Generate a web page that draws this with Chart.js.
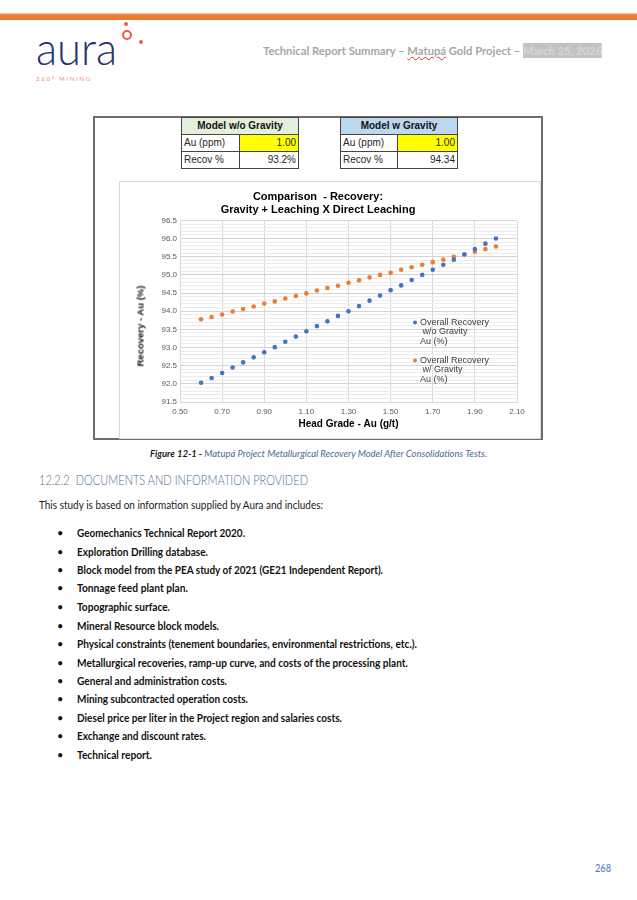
<!DOCTYPE html>
<html><head><meta charset="utf-8">
<script src="https://cdn.jsdelivr.net/npm/chart.js@4.4.1/dist/chart.umd.min.js"></script>
<style>
html,body{margin:0;padding:0;background:#fff;}
body{width:637px;height:900px;position:relative;overflow:hidden;font-family:Lato,'Open Sans',sans-serif;}
.abs{position:absolute;white-space:nowrap;}
[data-w]{transform-origin:0 50%;}
.tbl{position:absolute;border-collapse:collapse;font-family:'Liberation Sans',Arial,sans-serif;font-size:10px;color:#262626;table-layout:fixed;}
.tbl td{border:1px solid #444;padding:0 2px;height:16px;line-height:14px;white-space:nowrap;overflow:hidden;}
.tbl td.h{font-weight:bold;text-align:center;color:#111;}
.tbl td.v{text-align:right;}
.tbl td.yl{background:#ffff00;}
.bul{position:absolute;left:57px;font-size:11px;line-height:14px;color:#111;}
.btx{position:absolute;left:77px;font-size:11px;line-height:14px;font-weight:bold;color:#111;white-space:nowrap;}
</style></head><body>

<!-- header bar -->
<div class="abs" style="left:0;top:13px;width:637px;height:1px;background:#f7c9a8"></div>
<div class="abs" style="left:0;top:14px;width:637px;height:6px;background:#ed7d31"></div>

<!-- logo -->
<div class="abs" data-w="81" style="left:36px;top:25px;font-size:46px;line-height:46px;font-weight:300;color:#28336e;">aura</div>
<div class="abs" style="left:122px;top:30px;width:10px;height:10px;box-sizing:border-box;border:2px solid #f05a47;border-radius:50%;"></div>
<div class="abs" style="left:124px;top:22px;width:4px;height:4px;background:#f05a47;border-radius:50%;"></div>
<div class="abs" style="left:139px;top:40px;width:4px;height:4px;background:#f05a47;border-radius:50%;"></div>
<div class="abs" data-w="56" style="left:36px;top:75px;font-size:6.5px;line-height:8px;letter-spacing:1.8px;color:#f08878;">360° MINING</div>

<!-- running header -->
<div class="abs" data-w="339" style="left:263px;top:44px;font-size:12px;line-height:14px;font-weight:bold;color:#a6a6a6;">Technical Report Summary – <span style="text-decoration:underline wavy #e03030;text-decoration-thickness:1px;">Matupá</span> Gold Project – <span style="background:#c2c2c2;color:#d6d6d6;">March 25, 2026</span></div>

<!-- figure frame -->
<div class="abs" style="left:93px;top:116px;width:450px;height:324px;box-sizing:border-box;border:2px solid #6e6e6e;"></div>

<table class="tbl" style="left:181px;top:117px;width:117px;">
<colgroup><col style="width:58px"><col style="width:59px"></colgroup>
<tr><td class="h" colspan="2" style="background:#e2efda;">Model w/o Gravity</td></tr>
<tr><td>Au (ppm)</td><td class="v yl">1.00</td></tr>
<tr><td>Recov %</td><td class="v">93.2%</td></tr>
</table>
<table class="tbl" style="left:340px;top:117px;width:117px;">
<colgroup><col style="width:57px"><col style="width:60px"></colgroup>
<tr><td class="h" colspan="2" style="background:#bdd7ee;">Model w Gravity</td></tr>
<tr><td>Au (ppm)</td><td class="v yl">1.00</td></tr>
<tr><td>Recov %</td><td class="v">94.34</td></tr>
</table>

<div class="abs" style="left:119px;top:181px;width:422px;height:258px;box-sizing:border-box;border:1px solid #d9d9d9;"></div>
<canvas id="c" width="422" height="258" style="position:absolute;left:119px;top:181px;width:422px;height:258px;"></canvas>
<div class="abs" style="left:140px;top:326px;transform:translate(-50%,-50%) rotate(-90deg);font-family:'Liberation Sans',Arial,sans-serif;font-weight:bold;font-size:9.5px;line-height:11px;color:#1a1a1a;">Recovery - Au (%)</div>

<!-- caption -->
<div class="abs" data-w="337" style="left:150px;top:447px;font-size:9.5px;line-height:13px;font-style:italic;color:#4a6a96;"><b style="color:#1a1a1a;">Figure 12-1 -</b> Matupá Project Metallurgical Recovery Model After Consolidations Tests.</div>

<div class="abs" data-w="269" style="left:39px;top:472px;font-size:13.5px;line-height:16px;font-weight:300;color:#4f6f95;">12.2.2&nbsp; DOCUMENTS AND INFORMATION PROVIDED</div>

<div class="abs" data-w="284" style="left:39px;top:498px;font-size:11px;line-height:14px;color:#1a1a1a;">This study is based on information supplied by Aura and includes:</div>

<div id="list"></div>

<div class="abs" data-w="16" style="left:595px;top:861px;font-size:11px;line-height:14px;color:#4472c4;">268</div>

<script>
// ---- chart data ----
const headGrade = [0.60,0.65,0.70,0.75,0.80,0.85,0.90,0.95,1.00,1.05,1.10,1.15,1.20,1.25,1.30,1.35,1.40,1.45,1.50,1.55,1.60,1.65,1.70,1.75,1.80,1.85,1.90,1.95,2.00];
const recoveryWithoutGravity = [92.03,92.16,92.30,92.45,92.59,92.73,92.87,93.01,93.16,93.30,93.45,93.59,93.72,93.87,94.00,94.14,94.29,94.43,94.58,94.71,94.86,95.00,95.14,95.28,95.42,95.56,95.71,95.86,96.00];
const recoveryWithGravity = [93.78,93.84,93.91,93.99,94.06,94.13,94.21,94.27,94.35,94.42,94.49,94.57,94.64,94.70,94.78,94.85,94.93,95.00,95.06,95.14,95.21,95.28,95.35,95.42,95.50,95.57,95.64,95.71,95.78];
const seriesLabels = [['Overall Recovery',' w/o Gravity','Au (%)'],['Overall Recovery',' w/ Gravity','Au (%)']];
const chartTitle = ['Comparison  - Recovery:','Gravity + Leaching X Direct Leaching'];
const xAxisTitle = 'Head Grade - Au (g/t)';
const xMin = 0.5, xMax = 2.1, xStep = 0.2;
const yMin = 91.5, yMax = 96.5, yStep = 0.1, yLabelStep = 0.5;

// ---- page list ----
const items = [
 ['Geomechanics Technical Report 2020.',533,245],
 ['Exploration Drilling database.',552,208],
 ['Block model from the PEA study of 2021 (GE21 Independent Report).',570,383],
 ['Tonnage feed plant plan.',588,188],
 ['Topographic surface.',607,170],
 ['Mineral Resource block models.',626,219],
 ['Physical constraints (tenement boundaries, environmental restrictions, etc.).',644,417],
 ['Metallurgical recoveries, ramp-up curve, and costs of the processing plant.',663,408],
 ['General and administration costs.',681,227],
 ['Mining subcontracted operation costs.',699,248],
 ['Diesel price per liter in the Project region and salaries costs.',718,342],
 ['Exchange and discount rates.',736,206],
 ['Technical report.',755,152]
];
const list = document.getElementById('list');
items.forEach(([t,y,e])=>{
  const b=document.createElement('div');b.className='bul';b.style.top=(y-7)+'px';b.textContent='•';list.appendChild(b);
  const d=document.createElement('div');d.className='btx';d.style.top=(y-7)+'px';d.dataset.w=(e-77);d.textContent=t;list.appendChild(d);
});
function fit(){document.querySelectorAll('[data-w]').forEach(el=>{el.style.transform='none';const w=el.getBoundingClientRect().width;const t=+el.dataset.w;if(w>0)el.style.transform='scaleX('+(t/w).toFixed(4)+')';});}
fit(); if(document.fonts&&document.fonts.ready)document.fonts.ready.then(fit);

// ---- chart ----
const FF = "'Liberation Sans', Arial, sans-serif";
Chart.defaults.font.family = FF;
const isMajor = v => Math.abs(v/yLabelStep - Math.round(v/yLabelStep)) < 1e-6;
const legendPlugin = {
  id:'inLegend',
  afterDatasetsDraw(chart){
    const {ctx, chartArea} = chart;
    ctx.save();
    ctx.font = "9px " + FF;
    ctx.textBaseline = 'middle';
    const offs = [102, 140];
    chart.data.datasets.forEach((ds,i)=>{
      const x = chartArea.left + 235, y = chartArea.top + offs[i];
      ctx.fillStyle = ds.backgroundColor;
      ctx.beginPath(); ctx.arc(x, y, 2, 0, Math.PI*2); ctx.fill();
      ctx.fillStyle = '#404040';
      ds.label.forEach((ln,j)=>ctx.fillText(ln, x+5, y + j*9.4));
    });
    ctx.restore();
  }
};
new Chart(document.getElementById('c'), {
  type:'scatter',
  data:{datasets:[
    {label:seriesLabels[0], data:headGrade.map((x,i)=>({x,y:recoveryWithoutGravity[i]})), backgroundColor:'#4472c4', borderColor:'#4472c4', borderWidth:0, pointRadius:2.3, pointHoverRadius:2.3},
    {label:seriesLabels[1], data:headGrade.map((x,i)=>({x,y:recoveryWithGravity[i]})), backgroundColor:'#ed7d31', borderColor:'#ed7d31', borderWidth:0, pointRadius:2.3, pointHoverRadius:2.3}
  ]},
  options:{
    responsive:false, animation:false, devicePixelRatio:window.devicePixelRatio||1,
    layout:{padding:{left:0,right:24,top:0,bottom:0}},
    plugins:{
      legend:{display:false}, tooltip:{enabled:false},
      title:{display:true, text:chartTitle, color:'#000', font:{size:11, weight:'bold'}, padding:{top:9,bottom:4}, lineHeight:1.2}
    },
    scales:{
      x:{type:'linear', min:xMin, max:xMax,
         ticks:{stepSize:xStep, autoSkip:false, maxRotation:0, padding:5, color:'#595959', font:{size:8}, callback:v=>v.toFixed(2)},
         grid:{color:'#d9d9d9', drawTicks:false, lineWidth:1},
         border:{color:'#d9d9d9'},
         title:{display:true, text:xAxisTitle, color:'#000', font:{size:10, weight:'bold'}, padding:{top:0,bottom:9}},
         afterFit:s=>{s.height=37;}
      },
      y:{type:'linear', min:yMin, max:yMax,
         ticks:{stepSize:yStep, autoSkip:false, padding:3, color:'#595959', font:{size:8}, callback:v=>isMajor(v)?v.toFixed(1):''},
         grid:{color:c=>isMajor(c.tick.value)?'#d4d4d4':'#ececec', drawTicks:false, lineWidth:1},
         border:{color:'#d9d9d9'},
         afterFit:s=>{s.width=61;}
      }
    }
  },
  plugins:[legendPlugin]
});
</script>
</body></html>
